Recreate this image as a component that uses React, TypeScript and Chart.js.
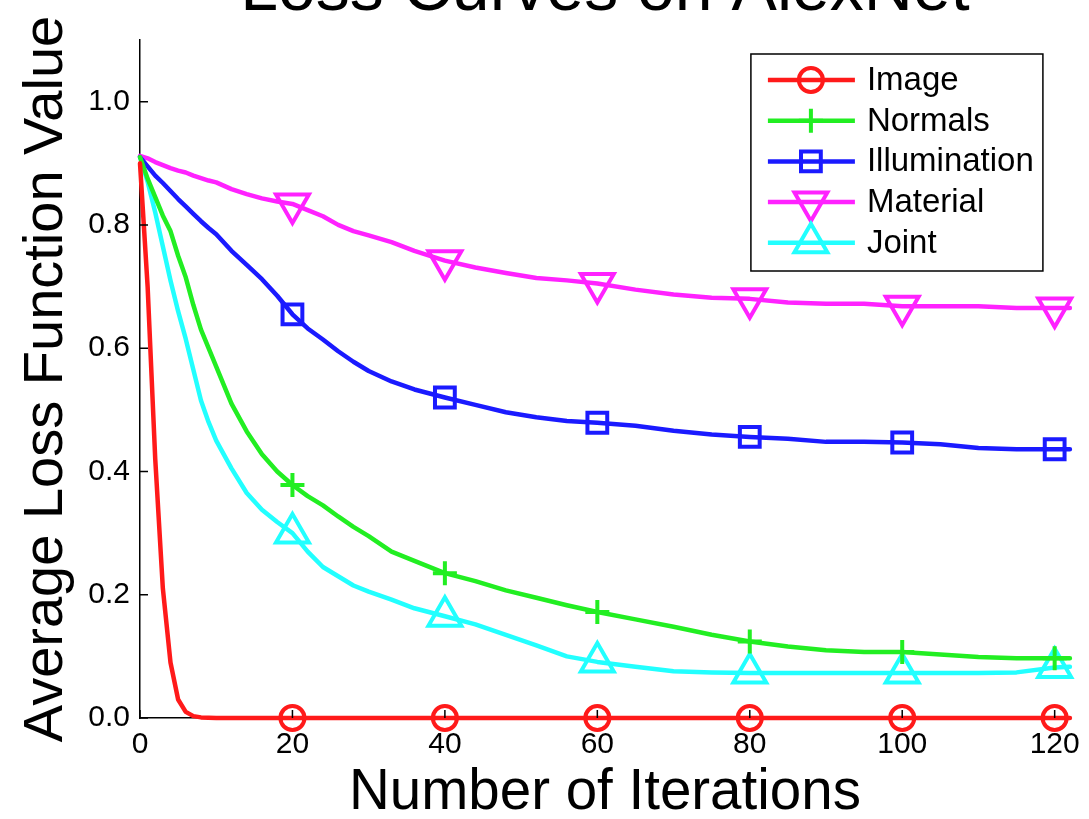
import React, { useEffect, useRef } from 'react';
import { Chart, registerables } from 'chart.js';

Chart.register(...registerables);

const TITLE = 'Loss Curves on AlexNet';
const X_TITLE = 'Number of Iterations';
const Y_TITLE = 'Average Loss Function Value';
const SERIES_NAMES = ['Image', 'Normals', 'Illumination', 'Material', 'Joint'];
const COLORS = ['#ff1a1a', '#22ee22', '#1a1aff', '#ff22ff', '#22ffff'];

const X_TICKS = [0, 20, 40, 60, 80, 100, 120];
const Y_TICKS = [0, 0.2, 0.4, 0.6, 0.8, 1.0];
const MARKER_ITERS = [20, 40, 60, 80, 100, 120];

const IMAGE_ITERS = [0, 1, 2, 3, 4, 5, 6, 7, 8, 10, 20, 40, 60, 80, 100, 120, 122];
const IMAGE_LOSS = [0.9, 0.7, 0.42, 0.21, 0.09, 0.03, 0.01, 0.003, 0.001, 0, 0, 0, 0, 0, 0, 0, 0];

const ITERS = [0, 1, 2, 3, 4, 5, 6, 7, 8, 9, 10, 12, 14, 16, 18, 20, 22, 24, 26, 28, 30, 33, 36, 40, 44, 48, 52, 56, 60, 65, 70, 75, 80, 85, 90, 95, 100, 105, 110, 115, 120, 122];
const NORMALS_LOSS = [0.91, 0.875, 0.845, 0.815, 0.79, 0.75, 0.715, 0.67, 0.63, 0.6, 0.57, 0.51, 0.465, 0.428, 0.4, 0.378, 0.36, 0.345, 0.327, 0.31, 0.295, 0.27, 0.255, 0.235, 0.222, 0.207, 0.195, 0.183, 0.172, 0.16, 0.148, 0.135, 0.124, 0.116, 0.11, 0.107, 0.107, 0.103, 0.099, 0.097, 0.097, 0.097];
const ILLUMINATION_LOSS = [0.91, 0.895, 0.88, 0.868, 0.855, 0.842, 0.83, 0.818, 0.806, 0.795, 0.785, 0.758, 0.735, 0.712, 0.685, 0.655, 0.632, 0.614, 0.595, 0.578, 0.563, 0.546, 0.533, 0.52, 0.508, 0.496, 0.488, 0.482, 0.479, 0.474, 0.466, 0.46, 0.456, 0.453, 0.448, 0.448, 0.447, 0.444, 0.438, 0.436, 0.436, 0.436];
const MATERIAL_LOSS = [0.912, 0.908, 0.902, 0.897, 0.892, 0.888, 0.885, 0.88, 0.876, 0.872, 0.869, 0.858, 0.85, 0.843, 0.838, 0.834, 0.824, 0.814, 0.8, 0.79, 0.783, 0.772, 0.758, 0.742, 0.731, 0.722, 0.714, 0.71, 0.705, 0.695, 0.687, 0.682, 0.68, 0.674, 0.672, 0.672, 0.668, 0.668, 0.668, 0.665, 0.665, 0.665];
const JOINT_LOSS = [0.91, 0.87, 0.82, 0.765, 0.71, 0.66, 0.615, 0.565, 0.515, 0.48, 0.45, 0.405, 0.365, 0.338, 0.318, 0.3, 0.27, 0.245, 0.23, 0.215, 0.205, 0.192, 0.178, 0.165, 0.152, 0.135, 0.118, 0.1, 0.091, 0.083, 0.076, 0.074, 0.073, 0.073, 0.073, 0.073, 0.073, 0.073, 0.073, 0.074, 0.082, 0.083];

const FONT = "'Liberation Sans', Arial, Helvetica, sans-serif";

const MARKERS = [
  { style: 'circle', rotation: 0, radius: 12 },
  { style: 'cross', rotation: 0, radius: 12 },
  { style: 'rect', rotation: 0, radius: 14 },
  { style: 'triangle', rotation: 180, radius: 19 },
  { style: 'triangle', rotation: 0, radius: 19 },
];

function drawMarker(ctx: CanvasRenderingContext2D, style: string, rot: number, r: number, x: number, y: number) {
  ctx.beginPath();
  if (style === 'circle') {
    ctx.arc(x, y, r, 0, Math.PI * 2);
  } else if (style === 'cross') {
    ctx.moveTo(x - r, y);
    ctx.lineTo(x + r, y);
    ctx.moveTo(x, y - r);
    ctx.lineTo(x, y + r);
  } else if (style === 'rect') {
    const s = r * Math.SQRT1_2;
    ctx.rect(x - s, y - s, 2 * s, 2 * s);
  } else if (style === 'triangle') {
    let a = (rot * Math.PI) / 180;
    for (let k = 0; k < 3; k++) {
      const px = x + Math.sin(a) * r;
      const py = y - Math.cos(a) * r;
      if (k === 0) ctx.moveTo(px, py);
      else ctx.lineTo(px, py);
      a += (2 * Math.PI) / 3;
    }
    ctx.closePath();
  }
  ctx.stroke();
}

const decorPlugin = {
  id: 'decor',
  afterDatasetsDraw(chart: any) {
    const ctx: CanvasRenderingContext2D = chart.ctx;
    const { left, bottom, top, right } = chart.chartArea;
    const xs = chart.scales.x;
    const ys = chart.scales.y;
    ctx.save();

    // title, centred over the plot area (partly cut off at the top of the page)
    ctx.fillStyle = '#000';
    ctx.font = `68px ${FONT}`;
    ctx.textAlign = 'center';
    ctx.textBaseline = 'alphabetic';
    ctx.fillText(TITLE, (left + right) / 2, top - 30.5);

    // inward tick marks
    ctx.strokeStyle = '#000';
    ctx.lineWidth = 1.5;
    ctx.beginPath();
    for (const v of X_TICKS) {
      const px = xs.getPixelForValue(v);
      ctx.moveTo(px, bottom);
      ctx.lineTo(px, bottom - 8);
    }
    for (const v of Y_TICKS) {
      const py = ys.getPixelForValue(v);
      ctx.moveTo(left, py);
      ctx.lineTo(left + 8, py);
    }
    ctx.stroke();

    // legend box
    const bx = right - 319;
    const by = top + 14;
    const bw = 292;
    const bh = 217;
    ctx.fillStyle = '#fff';
    ctx.fillRect(bx, by, bw, bh);
    ctx.strokeStyle = '#000';
    ctx.lineWidth = 1.5;
    ctx.strokeRect(bx, by, bw, bh);

    chart.data.datasets.forEach((ds: any, i: number) => {
      const cy = by + 26 + i * 40.7;
      const m = MARKERS[i];
      ctx.strokeStyle = ds.borderColor;
      ctx.lineWidth = 4.5;
      ctx.lineCap = 'butt';
      ctx.beginPath();
      ctx.moveTo(bx + 17, cy);
      ctx.lineTo(bx + 104, cy);
      ctx.stroke();
      ctx.lineWidth = 4;
      drawMarker(ctx, m.style, m.rotation, m.radius, bx + 60, cy);
      ctx.fillStyle = '#000';
      ctx.font = `33px ${FONT}`;
      ctx.textBaseline = 'middle';
      ctx.textAlign = 'left';
      ctx.fillText(ds.label, bx + 116, cy + 1);
    });
    ctx.restore();
  },
};

export default function App() {
  const ref = useRef<HTMLCanvasElement>(null);

  useEffect(() => {
    const canvas = ref.current;
    if (!canvas) return;
    const toPts = (xs: number[], ys: number[]) => xs.map((x, i) => ({ x, y: ys[i] }));
    const seriesData = [
      toPts(IMAGE_ITERS, IMAGE_LOSS),
      toPts(ITERS, NORMALS_LOSS),
      toPts(ITERS, ILLUMINATION_LOSS),
      toPts(ITERS, MATERIAL_LOSS),
      toPts(ITERS, JOINT_LOSS),
    ];
    const datasets = SERIES_NAMES.map((name, i) => ({
      label: name,
      data: seriesData[i],
      borderColor: COLORS[i],
      borderWidth: 4.5,
      tension: 0,
      borderJoinStyle: 'round',
      borderCapStyle: 'round',
      clip: false,
      pointStyle: MARKERS[i].style,
      pointRotation: MARKERS[i].rotation,
      pointRadius: (c: any) => (c.raw && MARKER_ITERS.includes(c.raw.x) ? MARKERS[i].radius : 0),
      pointHoverRadius: 0,
      pointBackgroundColor: 'rgba(0,0,0,0)',
      pointBorderColor: COLORS[i],
      pointBorderWidth: 4,
    }));

    const chart = new Chart(canvas, {
      type: 'line',
      data: { datasets } as any,
      options: {
        responsive: false,
        animation: false,
        events: [],
        layout: { padding: { top: 90, left: 0, right: 19, bottom: 0 } },
        plugins: {
          legend: { display: false },
          tooltip: { enabled: false },
          title: { display: false },
        },
        scales: {
          x: {
            type: 'linear',
            min: 0,
            max: 122,
            afterBuildTicks: (s: any) => {
              s.ticks = X_TICKS.map((v) => ({ value: v }));
            },
            afterFit: (s: any) => {
              s.height = 112;
            },
            ticks: {
              color: '#000',
              font: { size: 30, family: FONT },
              padding: 9,
              maxRotation: 0,
              autoSkip: false,
              callback: (v: any) => String(v),
            },
            grid: { display: false, drawTicks: false },
            border: { display: true, color: '#000', width: 1.5 },
            title: {
              display: true,
              text: X_TITLE,
              color: '#000',
              font: { size: 56.5, family: FONT },
              padding: { top: 0, bottom: 2.6 },
            },
          },
          y: {
            type: 'linear',
            min: 0,
            max: 1.1,
            afterBuildTicks: (s: any) => {
              s.ticks = Y_TICKS.map((v) => ({ value: v }));
            },
            afterFit: (s: any) => {
              s.width = 140;
            },
            ticks: {
              color: '#000',
              font: { size: 30, family: FONT },
              padding: 10,
              callback: (v: any) => Number(v).toFixed(1),
            },
            grid: { display: false, drawTicks: false },
            border: { display: true, color: '#000', width: 1.5 },
            title: {
              display: true,
              text: Y_TITLE,
              color: '#000',
              font: { size: 56, family: FONT },
              padding: { top: 13, bottom: 0 },
            },
          },
        },
      } as any,
      plugins: [decorPlugin],
    });
    return () => chart.destroy();
  }, []);

  return (
    <div style={{ position: 'fixed', left: 0, top: 0, width: 1089, height: 819, overflow: 'hidden', background: '#fff' }}>
      <canvas ref={ref} width={1089} height={880} style={{ position: 'absolute', left: 0, top: -50, width: 1089, height: 880, display: 'block' }} />
    </div>
  );
}
